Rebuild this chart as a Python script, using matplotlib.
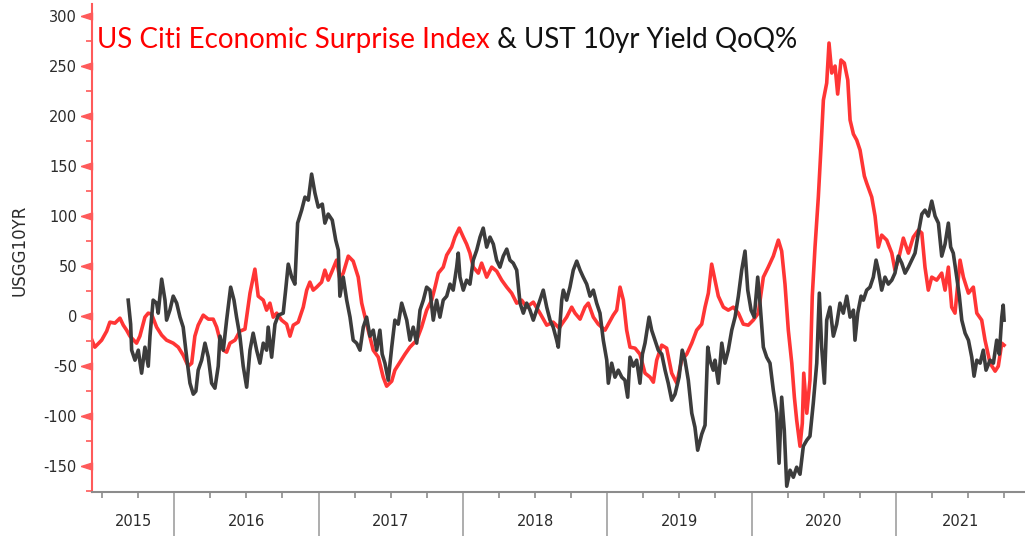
import matplotlib
matplotlib.use("Agg")
import matplotlib.pyplot as plt
import numpy as np

plt.rcParams["axes.unicode_minus"] = False

RED = "#ff3535"
RED_AXIS = "#ff5a5a"
DARK = "#3c3c3c"
INK = "#2b2b2b"
GRID_GRAY = "#8c8c8c"

# ---- data (decimal years) ----
# Citi US economic surprise index
citi_dates = [
    2015.430, 2015.450, 2015.497, 2015.532, 2015.554, 2015.589, 2015.624, 2015.647, 2015.670, 2015.693,
    2015.739, 2015.762, 2015.797, 2015.820, 2015.843, 2015.878, 2015.913, 2015.947, 2015.993, 2016.028,
    2016.062, 2016.097, 2016.121, 2016.143, 2016.166, 2016.201, 2016.236, 2016.270, 2016.294, 2016.317,
    2016.340, 2016.363, 2016.386, 2016.421, 2016.455, 2016.490, 2016.525, 2016.559, 2016.582, 2016.617,
    2016.640, 2016.663, 2016.686, 2016.710, 2016.744, 2016.779, 2016.802, 2016.825, 2016.859, 2016.894,
    2016.918, 2016.940, 2016.963, 2016.987, 2017.021, 2017.044, 2017.067, 2017.091, 2017.125, 2017.148,
    2017.171, 2017.206, 2017.240, 2017.275, 2017.299, 2017.322, 2017.344, 2017.379, 2017.414, 2017.448,
    2017.472, 2017.507, 2017.529, 2017.564, 2017.599, 2017.633, 2017.680, 2017.714, 2017.749, 2017.784,
    2017.807, 2017.830, 2017.864, 2017.888, 2017.922, 2017.945, 2017.975, 2018.003, 2018.026, 2018.049,
    2018.072, 2018.107, 2018.130, 2018.165, 2018.200, 2018.234, 2018.269, 2018.304, 2018.338, 2018.373,
    2018.407, 2018.442, 2018.488, 2018.534, 2018.581, 2018.626, 2018.668, 2018.685, 2018.719, 2018.754,
    2018.777, 2018.812, 2018.846, 2018.869, 2018.904, 2018.938, 2018.985, 2019.008, 2019.042, 2019.066,
    2019.089, 2019.112, 2019.135, 2019.158, 2019.193, 2019.227, 2019.262, 2019.297, 2019.320, 2019.343,
    2019.378, 2019.412, 2019.447, 2019.482, 2019.516, 2019.551, 2019.586, 2019.620, 2019.655, 2019.678,
    2019.701, 2019.724, 2019.747, 2019.770, 2019.805, 2019.839, 2019.874, 2019.909, 2019.943, 2019.978,
    2020.012, 2020.047, 2020.082, 2020.116, 2020.151, 2020.186, 2020.209, 2020.232, 2020.255, 2020.279,
    2020.297, 2020.313, 2020.336, 2020.352, 2020.362, 2020.383, 2020.405, 2020.421, 2020.440, 2020.463,
    2020.482, 2020.498, 2020.521, 2020.537, 2020.556, 2020.579, 2020.597, 2020.620, 2020.643, 2020.667,
    2020.683, 2020.706, 2020.729, 2020.752, 2020.782, 2020.798, 2020.833, 2020.856, 2020.879, 2020.902,
    2020.937, 2020.972, 2020.994, 2021.017, 2021.052, 2021.087, 2021.121, 2021.156, 2021.180, 2021.202,
    2021.225, 2021.249, 2021.283, 2021.318, 2021.341, 2021.364, 2021.387, 2021.410, 2021.445, 2021.468,
    2021.503, 2021.537, 2021.561, 2021.595, 2021.618, 2021.653, 2021.688, 2021.710, 2021.734, 2021.750,
]
citi_vals = [
    -24, -31, -24, -15, -6, -7, -2, -9, -14, -20,
    -27, -20, -1, 3, 2, -11, -19, -24, -27, -31,
    -39, -50, -47, -20, -9, 1, -3, -3, -11, -24,
    -34, -36, -27, -24, -15, -13, 23, 47, 20, 16,
    6, 13, -1, 3, -4, -8, -20, -9, -6, 9,
    26, 34, 26, 29, 34, 46, 36, 44, 56, 37,
    43, 60, 55, 39, 13, -1, -14, -34, -41, -61,
    -70, -65, -54, -46, -38, -31, -24, -11, 6, 16,
    29, 43, 49, 61, 69, 79, 88, 79, 72, 63,
    49, 43, 53, 39, 49, 45, 36, 29, 23, 13,
    16, 9, 14, 3, -9, -6, -12, -8, -1, 9,
    3, -3, 9, 13, -1, -8, -14, -8, 1, 6,
    29, 16, -14, -31, -32, -38, -57, -61, -66, -44,
    -29, -32, -57, -67, -44, -38, -27, -14, -8, 9,
    23, 52, 36, 20, 9, 6, 9, 3, -8, -9,
    -4, 3, 39, 49, 60, 76, 65, 32, -14, -47,
    -81, -104, -130, -107, -57, -97, -64, 20, 69, 119,
    170, 216, 233, 273, 243, 250, 222, 256, 253, 236,
    196, 182, 176, 166, 140, 133, 119, 100, 69, 81,
    76, 63, 46, 56, 78, 63, 79, 86, 83, 49,
    26, 39, 36, 43, 26, 49, 9, 3, 56, 39,
    23, 29, 3, -4, -24, -47, -55, -50, -27, -29,
]

# UST 10yr yield, quarter-on-quarter %
ust_dates = [
    2015.681, 2015.698, 2015.705, 2015.728, 2015.751, 2015.774, 2015.797, 2015.820, 2015.832, 2015.854,
    2015.878, 2015.889, 2015.913, 2015.936, 2015.947, 2015.970, 2015.993, 2016.017, 2016.040, 2016.062,
    2016.086, 2016.109, 2016.132, 2016.150, 2016.166, 2016.190, 2016.213, 2016.236, 2016.259, 2016.282,
    2016.305, 2016.317, 2016.340, 2016.363, 2016.391, 2016.414, 2016.432, 2016.455, 2016.478, 2016.502,
    2016.525, 2016.547, 2016.571, 2016.594, 2016.617, 2016.640, 2016.651, 2016.675, 2016.698, 2016.721,
    2016.755, 2016.772, 2016.790, 2016.814, 2016.836, 2016.855, 2016.883, 2016.906, 2016.929, 2016.952,
    2016.975, 2016.998, 2017.026, 2017.044, 2017.067, 2017.095, 2017.119, 2017.137, 2017.148, 2017.171,
    2017.195, 2017.218, 2017.240, 2017.264, 2017.287, 2017.310, 2017.333, 2017.356, 2017.379, 2017.403,
    2017.425, 2017.441, 2017.460, 2017.483, 2017.507, 2017.529, 2017.552, 2017.576, 2017.611, 2017.633,
    2017.656, 2017.680, 2017.703, 2017.726, 2017.749, 2017.772, 2017.795, 2017.818, 2017.841, 2017.864,
    2017.888, 2017.911, 2017.933, 2017.957, 2017.968, 2017.980, 2018.003, 2018.026, 2018.049, 2018.072,
    2018.096, 2018.119, 2018.141, 2018.165, 2018.188, 2018.211, 2018.234, 2018.257, 2018.280, 2018.304,
    2018.326, 2018.349, 2018.373, 2018.396, 2018.419, 2018.442, 2018.465, 2018.488, 2018.511, 2018.534,
    2018.557, 2018.581, 2018.604, 2018.626, 2018.650, 2018.661, 2018.685, 2018.696, 2018.719, 2018.742,
    2018.765, 2018.789, 2018.812, 2018.834, 2018.858, 2018.881, 2018.904, 2018.927, 2018.950, 2018.973,
    2018.997, 2019.008, 2019.031, 2019.054, 2019.077, 2019.101, 2019.123, 2019.142, 2019.158, 2019.181,
    2019.204, 2019.227, 2019.244, 2019.262, 2019.290, 2019.308, 2019.331, 2019.354, 2019.378, 2019.401,
    2019.423, 2019.447, 2019.470, 2019.498, 2019.520, 2019.539, 2019.562, 2019.586, 2019.608, 2019.627,
    2019.655, 2019.678, 2019.697, 2019.712, 2019.735, 2019.747, 2019.770, 2019.794, 2019.816, 2019.839,
    2019.863, 2019.886, 2019.909, 2019.932, 2019.955, 2019.974, 2019.997, 2020.019, 2020.043, 2020.059,
    2020.082, 2020.105, 2020.128, 2020.151, 2020.175, 2020.191, 2020.209, 2020.227, 2020.244, 2020.267,
    2020.290, 2020.313, 2020.336, 2020.359, 2020.383, 2020.405, 2020.428, 2020.452, 2020.470, 2020.486,
    2020.505, 2020.521, 2020.544, 2020.567, 2020.590, 2020.613, 2020.636, 2020.660, 2020.683, 2020.706,
    2020.717, 2020.736, 2020.759, 2020.775, 2020.798, 2020.821, 2020.844, 2020.863, 2020.879, 2020.902,
    2020.925, 2020.948, 2020.972, 2020.994, 2021.017, 2021.041, 2021.064, 2021.087, 2021.110, 2021.133,
    2021.156, 2021.180, 2021.202, 2021.225, 2021.249, 2021.272, 2021.295, 2021.318, 2021.341, 2021.364,
    2021.380, 2021.398, 2021.422, 2021.440, 2021.457, 2021.480, 2021.503, 2021.526, 2021.542, 2021.561,
    2021.584, 2021.606, 2021.625, 2021.653, 2021.676, 2021.699, 2021.717, 2021.734, 2021.744, 2021.750,
]
ust_vals = [
    16, -8, -34, -44, -34, -57, -31, -50, -20, 16,
    13, 3, 37, 16, -4, 6, 20, 13, -1, -11,
    -41, -67, -78, -75, -54, -44, -27, -41, -67, -72,
    -50, -20, -34, -4, 29, 16, -1, -20, -50, -71,
    -34, -17, -34, -47, -27, -34, -11, -41, -8, 1,
    3, 26, 52, 39, 32, 93, 106, 119, 116, 142,
    123, 109, 112, 93, 102, 96, 76, 66, 20, 39,
    16, -1, -24, -27, -34, -11, -1, -20, -14, -34,
    -14, -38, -47, -64, -31, -4, -8, 13, -4, -24,
    -11, -27, 6, 16, 29, 26, -4, 16, -1, 16,
    20, 32, 26, 49, 63, 39, 26, 36, 32, 56,
    66, 79, 88, 69, 79, 72, 56, 49, 60, 67,
    56, 53, 46, 13, 3, 13, 6, -4, 6, 16,
    26, 9, -4, -11, -24, -31, 16, 26, 16, 29,
    46, 55, 46, 39, 32, 20, 26, 13, 3, -24,
    -44, -67, -47, -61, -54, -61, -64, -81, -41, -50,
    -44, -67, -38, -27, -1, -14, -24, -34, -38, -54,
    -67, -84, -78, -61, -34, -44, -64, -97, -111, -134,
    -118, -109, -31, -44, -54, -44, -67, -27, -47, -34,
    -14, -1, 20, 46, 65, 26, 6, -1, 39, 13,
    -31, -41, -47, -74, -97, -147, -81, -114, -170, -154,
    -161, -151, -158, -130, -124, -120, -87, -47, 23, -31,
    -67, -4, 9, -20, -8, 13, 3, 20, -1, 6,
    -24, 3, 20, 16, 26, 29, 39, 56, 46, 26,
    39, 32, 36, 43, 60, 53, 43, 49, 56, 63,
    83, 102, 106, 100, 115, 100, 93, 60, 72, 93,
    69, 63, 39, 20, -4, -17, -24, -41, -60, -44,
    -47, -34, -54, -44, -47, -24, -38, -1, 11, -4,
]

years = [2015, 2016, 2017, 2018, 2019, 2020, 2021]
y_major = list(range(-150, 301, 50))
y_minor = list(range(-175, 311, 25))

# ---- figure ----
fig = plt.figure(figsize=(10.25, 5.36), dpi=100)
ax = fig.add_axes([0.0900, 0.0826, 0.9100, 0.9099])

ax.plot(citi_dates, citi_vals, color=RED, lw=2.6, solid_joinstyle="round", zorder=2)
ax.plot(ust_dates, ust_vals, color=DARK, lw=2.6, solid_joinstyle="round", zorder=3)

x0, x1 = 2015.432, 2021.895
ax.set_xlim(x0, x1)
ax.set_ylim(-175.5, 312)

for s in ("top", "right"):
    ax.spines[s].set_visible(False)
ax.spines["left"].set_color(RED_AXIS)
ax.spines["left"].set_linewidth(1.5)
ax.spines["bottom"].set_color(GRID_GRAY)
ax.spines["bottom"].set_linewidth(1.5)

# y axis: red triangle markers at majors, short red minors
ax.set_yticks(y_major)
ax.set_yticks(y_minor, minor=True)
ax.tick_params(axis="y", which="major", length=0, pad=11, labelsize=10.5, labelcolor=INK)
ax.tick_params(axis="y", which="minor", length=4, width=1.2, color=RED_AXIS)
tri = [(-1, 0), (0, 0.32), (0, -0.32), (-1, 0)]
ax.plot(np.zeros(len(y_major)), y_major, ls="none", marker=tri, ms=16,
        color=RED_AXIS, transform=ax.get_yaxis_transform(), clip_on=False, zorder=5)

# x axis: long year separators, quarterly minors, centred year labels
ax.set_xticks(years[1:])
ax.set_xticklabels([])
ax.set_xticks(np.arange(2015.5, x1, 0.25), minor=True)
ax.tick_params(axis="x", which="major", length=32, width=1.2, color="#a0a0a0")
ax.tick_params(axis="x", which="minor", length=4, width=1.2, color=GRID_GRAY)
for yr in years:
    mid = (max(yr, x0) + min(yr + 1, x1)) / 2
    ax.text(mid, -0.0615, str(yr), transform=ax.get_xaxis_transform(),
            ha="center", va="center", fontsize=10.5, color=INK)

fig.text(0.0195, 1 - 250 / 536, "USGG10YR", rotation=90, ha="center", va="center",
         fontsize=12, color=INK)

# two-colour title inside the plot area
t1 = fig.text(97 / 1025, 1 - 48 / 536, "US Citi Economic Surprise Index", color="#ff0000",
              fontsize=20, family="Lato", ha="left", va="baseline")
ax.annotate(" & UST 10yr Yield QoQ%", xy=(1, 0), xycoords=t1, ha="left", va="bottom",
            color="#111111", fontsize=20, family="Lato")

fig.savefig("out.png", dpi=100, facecolor="white")
